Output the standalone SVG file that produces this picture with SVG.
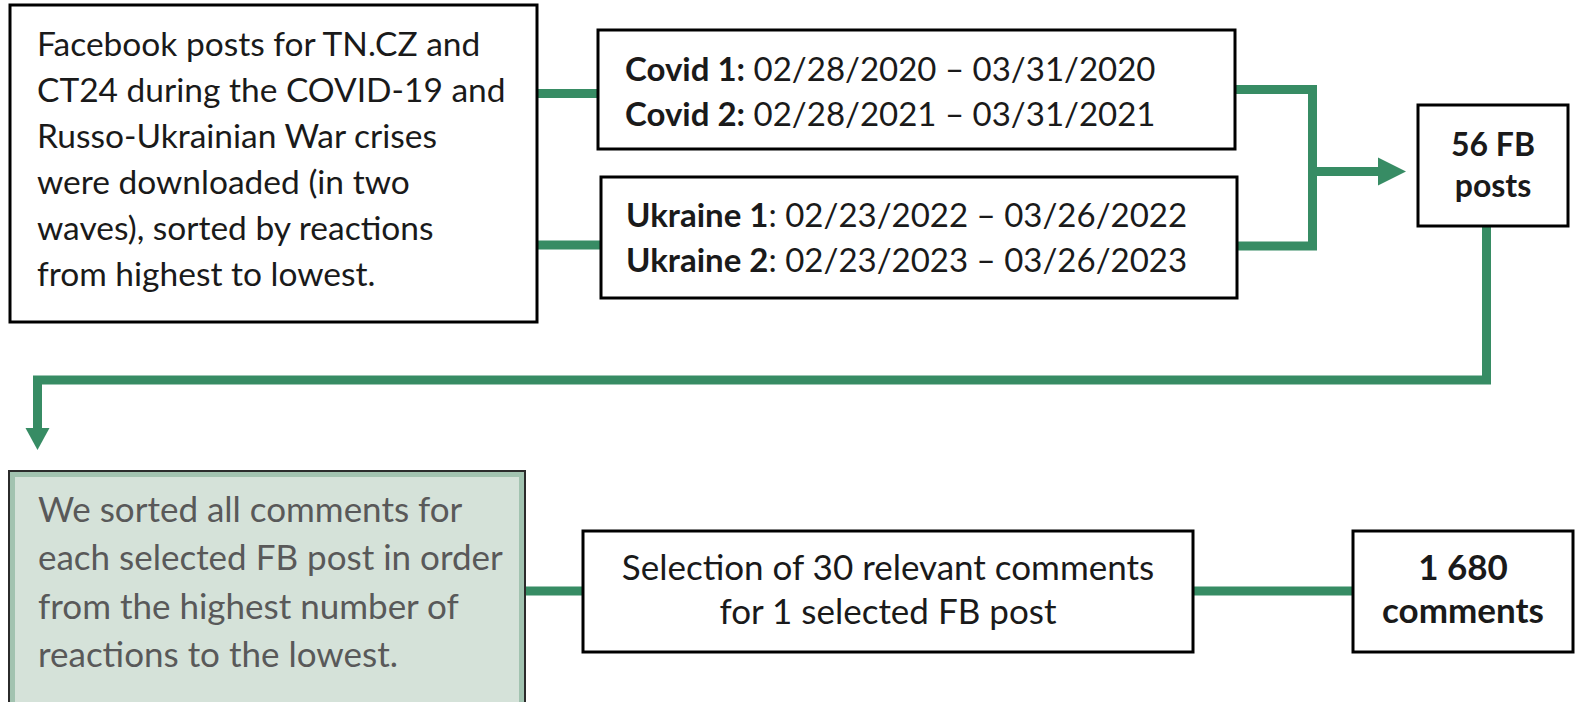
<svg xmlns="http://www.w3.org/2000/svg" width="1578" height="702" viewBox="0 0 1578 702">
<defs>
<style>
.box{fill:#ffffff;stroke:#000000;stroke-width:3}
.t{font-family:Lato,"Open Sans","Liberation Sans",sans-serif;font-size:31px;fill:#1a1a1a}
.b{font-weight:bold}
.g{fill:#595959}
.c{stroke:#378c64;stroke-width:9;fill:none;stroke-linejoin:miter}
.ah{fill:#378c64}
</style>
</defs>
<rect width="1578" height="702" fill="#ffffff"/>
<g id="connectors">
<line class="c" x1="537" y1="93.5" x2="598" y2="93.5"/>
<line class="c" x1="537" y1="245" x2="601" y2="245"/>
<path class="c" d="M1235,89.5 H1312.5 V246 H1237"/>
<line class="c" x1="1312" y1="171.5" x2="1382" y2="171.5"/>
<polygon class="ah" points="1378,157.5 1406,171.5 1378,185.5"/>
<path class="c" d="M1486.5,226 V380 H37.5 V432"/>
<polygon class="ah" points="25.5,428 49.5,428 37.5,450"/>
<line class="c" x1="525" y1="591" x2="583" y2="591"/>
<line class="c" x1="1193" y1="591" x2="1353" y2="591"/>
</g>
<g id="node-source">
<rect class="box" x="10" y="5" width="527" height="317"/>
<text class="t" style="font-size:33.5px" x="37" y="56">Facebook posts for TN.CZ and</text>
<text class="t" style="font-size:33.5px" x="37" y="102">CT24 during the COVID-19 and</text>
<text class="t" style="font-size:33.5px" x="37" y="148">Russo-Ukrainian War crises</text>
<text class="t" style="font-size:33.5px" x="37" y="194">were downloaded (in two</text>
<text class="t" style="font-size:33.5px" x="37" y="240">waves), sorted by reactions</text>
<text class="t" style="font-size:33.5px" x="37" y="286">from highest to lowest.</text>
</g>
<g id="node-covid">
<rect class="box" x="598" y="30" width="637" height="119"/>
<text class="t" style="font-size:33px" x="625" y="81"><tspan class="b">Covid 1:</tspan> 02/28/2020 – 03/31/2020</text>
<text class="t" style="font-size:33px" x="625" y="126"><tspan class="b">Covid 2:</tspan> 02/28/2021 – 03/31/2021</text>
</g>
<g id="node-ukraine">
<rect class="box" x="601" y="177" width="636" height="121"/>
<text class="t" style="font-size:33px" x="626" y="227"><tspan class="b">Ukraine 1</tspan>: 02/23/2022 – 03/26/2022</text>
<text class="t" style="font-size:33px" x="626" y="272"><tspan class="b">Ukraine 2</tspan>: 02/23/2023 – 03/26/2023</text>
</g>
<g id="node-posts">
<rect class="box" x="1418" y="105" width="150" height="121"/>
<text class="t b" style="font-size:32px" x="1493" y="156" text-anchor="middle">56 FB</text>
<text class="t b" style="font-size:32px" x="1493" y="197" text-anchor="middle">posts</text>
</g>
<g id="node-sorted">
<rect x="9" y="471" width="516" height="240" fill="#d5e2d9" stroke="#2b2b2b" stroke-width="2"/>
<rect x="12.5" y="474.5" width="509" height="240" fill="none" stroke="#a2c3b0" stroke-width="5"/>
<text class="t g" style="font-size:35px" x="38" y="522">We sorted all comments for</text>
<text class="t g" style="font-size:35px" x="38" y="570">each selected FB post in order</text>
<text class="t g" style="font-size:35px" x="38" y="619">from the highest number of</text>
<text class="t g" style="font-size:35px" x="38" y="667">reactions to the lowest.</text>
</g>
<g id="node-selection">
<rect class="box" x="583" y="531" width="610" height="121"/>
<text class="t" style="font-size:35px" x="888" y="580" text-anchor="middle">Selection of 30 relevant comments</text>
<text class="t" style="font-size:35px" x="888" y="624" text-anchor="middle">for 1 selected FB post</text>
</g>
<g id="node-comments">
<rect class="box" x="1353" y="531" width="220" height="121"/>
<text class="t b" style="font-size:35px" x="1463" y="580" text-anchor="middle">1 680</text>
<text class="t b" style="font-size:35px" x="1463" y="623" text-anchor="middle">comments</text>
</g>
</svg>
